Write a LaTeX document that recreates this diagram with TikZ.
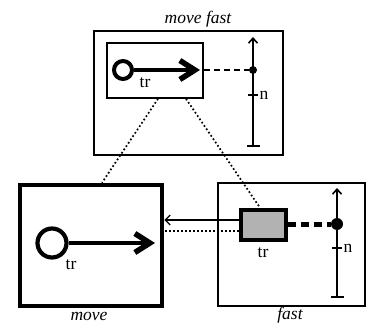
\documentclass[tikz,border=0pt]{standalone}
\usepackage{fontspec}
\setmainfont{Liberation Serif}
\usetikzlibrary{arrows.meta}
\begin{document}
\begin{tikzpicture}[x=1pt,y=-1pt,
  box/.style={draw, rectangle, inner sep=0pt, line width=1.6pt},
  thickbox/.style={draw, rectangle, inner sep=0pt, line width=4.5pt},
  ring/.style={draw, circle, inner sep=0pt, line width=4pt},
  bigarrow/.style={line width=4pt, -{Straight Barb[length=15pt,width=19pt,line width=5.5pt]}},
  axis/.style={line width=1.6pt, {Bar[width=13pt,line width=1.8pt]}-{Straight Barb[length=5pt,width=9pt,line width=1.6pt]}},
  lbl/.style={inner sep=0pt, font=\fontsize{17.5}{17.5}\selectfont},
  caption/.style={inner sep=0pt, font=\fontsize{17.5}{17.5}\selectfont\itshape},
  dotline/.style={line width=1.7pt, dash pattern=on 1.7pt off 2.3pt},
  dot/.style={fill, circle, inner sep=0pt}]
\useasboundingbox (0,0) rectangle (366,323);

% top box
\node[box, minimum width=189pt, minimum height=124pt] (top) at (188.5,93) {};
\node[caption] (ctop) at (198,19) {move fast};
\node[box, minimum width=96pt, minimum height=55pt] (inner) at (155,70.5) {};
\node[ring, minimum size=18pt] (c1) at (123,70) {};
\coordinate (a1) at (200,70);
\draw[bigarrow] (c1.east) -- (a1);
\node[lbl] (tr1) at (145,83) {tr};
\node[dot, minimum size=8pt] (d1) at (253,70) {};
\draw[line width=1.6pt, dash pattern=on 6pt off 4pt] (inner.east |- d1) -- (d1);
\coordinate (t1) at (253,37);
\coordinate (b1) at (253,147);
\draw[axis] (b1) -- (t1);
\coordinate (k1) at (253,95);
\draw[line width=1.6pt] ([xshift=-5pt]k1) -- ([xshift=5pt]k1);
\node[lbl] (n1) at (264,95) {n};

% move box
\node[thickbox, minimum width=142pt, minimum height=121pt] (move) at (91,245.5) {};
\node[caption] (cmove) at (89,316) {move};
\node[ring, minimum size=29pt, line width=4.2pt] (c2) at (52,243) {};
\coordinate (a2) at (155,243);
\draw[bigarrow] (c2.east) -- (a2);
\node[lbl] (tr2) at (71,265) {tr};

% fast box
\node[box, minimum width=147pt, minimum height=123pt] (fast) at (291.5,244.5) {};
\node[caption] (cfast) at (290,315) {fast};
\node[thickbox, fill=black!30, minimum width=45pt, minimum height=30pt] (trr) at (263.5,225) {};
\node[lbl] (tr3) at (263,253) {tr};
\node[dot, minimum size=12pt] (d2) at (337,224) {};
\draw[line width=5pt, dash pattern=on 8pt off 5pt] (trr.east |- d2) -- (d2);
\coordinate (t2) at (337,188);
\coordinate (b2) at (337,298);
\draw[axis] (b2) -- (t2);
\coordinate (k2) at (337,248);
\draw[line width=1.6pt] ([xshift=-5pt]k2) -- ([xshift=5pt]k2);
\node[lbl] (n2) at (348,248) {n};

% connectors
\coordinate (s1) at ([yshift=5pt]trr.west);
\draw[line width=1.3pt, -{Straight Barb[length=5pt,width=10pt,line width=1.3pt]}] (s1) -- (s1 -| move.east);
\coordinate (s2) at ([yshift=-6pt]trr.west);
\draw[dotline] (s2) -- (s2 -| move.east);
\coordinate (p1) at ([xshift=3pt]inner.south);
\coordinate (p2) at ([xshift=31pt]inner.south);
\coordinate (q1) at ([xshift=11pt]move.north);
\coordinate (q2) at ([xshift=-3.5pt]trr.north);
\draw[dotline] (p1) -- (q1);
\draw[dotline] (p2) -- (q2);
\end{tikzpicture}
\end{document}
